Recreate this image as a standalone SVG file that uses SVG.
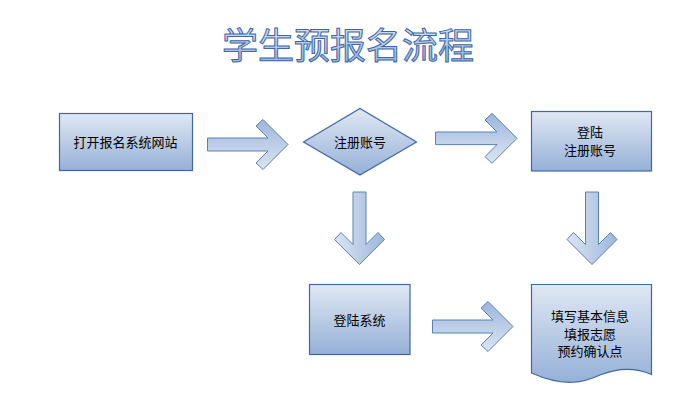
<svg xmlns="http://www.w3.org/2000/svg" width="685" height="409" viewBox="0 0 685 409">
<defs>
<linearGradient id="gBox" x1="0" y1="0" x2="0" y2="1">
<stop offset="0" stop-color="#e0e8f3"/>
<stop offset="1" stop-color="#95b0d7"/>
</linearGradient>
<linearGradient id="gArrR" x1="0" y1="0" x2="0" y2="1">
<stop offset="0" stop-color="#9db6dc"/>
<stop offset="1" stop-color="#dbe5f2"/>
</linearGradient>
<linearGradient id="gArrD" x1="0" y1="0" x2="1" y2="0">
<stop offset="0" stop-color="#dbe5f2"/>
<stop offset="1" stop-color="#9db6dc"/>
</linearGradient>
<linearGradient id="gTitle" x1="0" y1="0" x2="0" y2="1">
<stop offset="0" stop-color="#e4ecf6"/>
<stop offset="1" stop-color="#8eaed9"/>
</linearGradient>
<style>
.box{fill:url(#gBox);stroke:#3e68a6;stroke-width:1.2}
.arr-r{fill:url(#gArrR);stroke:#5a80b8;stroke-width:1}
.arr-d{fill:url(#gArrD);stroke:#5a80b8;stroke-width:1}
.t{font-family:"Noto Sans CJK SC","Noto Sans",sans-serif;font-size:13px;fill:#000;text-anchor:middle}
.title{font-family:"Noto Sans CJK SC","Noto Sans",sans-serif;font-size:36px;fill:url(#gTitle);stroke:#3d66a6;stroke-width:1;text-anchor:middle}
</style>
</defs>
<rect width="685" height="409" fill="#ffffff"/>
<text class="title" x="348" y="59">学生预报名流程</text>

<g id="n1">
<rect class="box" x="59.5" y="113.5" width="133" height="57"/>
<text class="t" x="125.5" y="146.5">打开报名系统网站</text>
</g>
<g id="n2">
<polygon class="box" points="303.5,142 360,108.5 416.5,142 360,175"/>
<text class="t" x="360" y="146.5">注册账号</text>
</g>
<g id="n3">
<rect class="box" x="531.5" y="111.5" width="120" height="59.5"/>
<text class="t" x="590" y="136.5">登陆</text>
<text class="t" x="590" y="154.5">注册账号</text>
</g>
<g id="n4">
<rect class="box" x="309.5" y="284.5" width="100.5" height="70"/>
<text class="t" x="359.5" y="324.5">登陆系统</text>
</g>
<g id="n5">
<path class="box" d="M531.5,284.5 H651.5 V374.5 C632,366 615,369 600,375 C585,382 565,388 531.5,373 Z"/>
<text class="t" x="590" y="321">填写基本信息</text>
<text class="t" x="590" y="338.5">填报志愿</text>
<text class="t" x="590" y="356">预约确认点</text>
</g>

<g id="connectors">
<path class="arr-r" d="M207.5,138 H268 L256,126 L263,119.5 L288,144.5 L263,169.5 L256,163 L268,151 H207.5 Z"/>
<path class="arr-r" d="M435.5,132 H497 L485,120 L492,113.3 L517,138.3 L492,163.3 L485,156.6 L497,144.6 H435.5 Z"/>
<path class="arr-r" d="M432.5,320 H493 L481,308 L488,301.5 L513,326.5 L488,351.5 L481,345 L493,333 H432.5 Z"/>
<path class="arr-d" d="M353,192 V244.5 L341,232.5 L334.5,239.5 L359.5,264.5 L384.5,239.5 L378,232.5 L366,244.5 V192 Z"/>
<path class="arr-d" d="M585.5,192 V244.5 L573.5,232.5 L567,239.5 L592,264.5 L617,239.5 L610.5,232.5 L598.5,244.5 V192 Z"/>
</g>
</svg>
